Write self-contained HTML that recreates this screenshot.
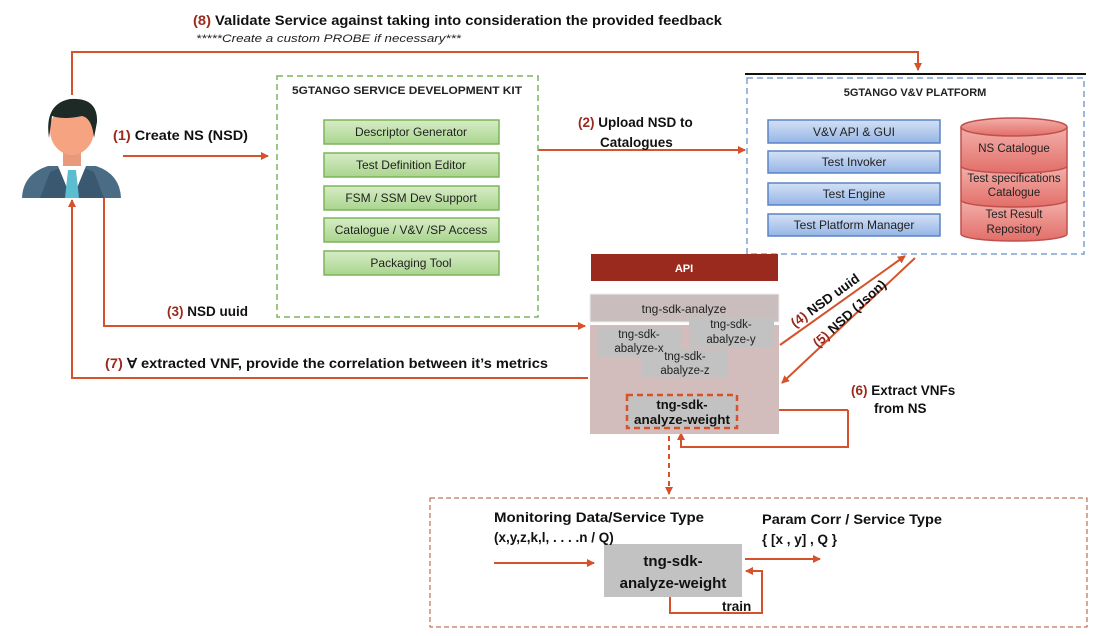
<!DOCTYPE html>
<html><head><meta charset="utf-8"><style>
html,body{margin:0;padding:0;background:#fff}
svg{display:block;font-family:"Liberation Sans",sans-serif}
</style></head><body>
<svg width="1095" height="636" viewBox="0 0 1095 636" xmlns="http://www.w3.org/2000/svg">
<defs>
<marker id="a" markerWidth="8" markerHeight="8" refX="7" refY="4" orient="auto" markerUnits="userSpaceOnUse"><path d="M0,0 L8,4 L0,8 z" fill="#d5522a"/></marker>
<linearGradient id="g" x1="0" y1="0" x2="0" y2="1"><stop offset="0" stop-color="#d7ecc6"/><stop offset="1" stop-color="#a9d58e"/></linearGradient>
<linearGradient id="b" x1="0" y1="0" x2="0" y2="1"><stop offset="0" stop-color="#d4e1f5"/><stop offset="1" stop-color="#95b5e6"/></linearGradient>
<linearGradient id="r" x1="0" y1="0" x2="0" y2="1"><stop offset="0" stop-color="#f3b0ab"/><stop offset="1" stop-color="#e26e68"/></linearGradient>
</defs>
<g fill="none" stroke="#d5522a" stroke-width="2">
<polyline points="72,95 72,52 918,52 918,70" marker-end="url(#a)"/>
<line x1="123" y1="156" x2="268" y2="156" marker-end="url(#a)"/>
<line x1="538" y1="150" x2="745" y2="150" marker-end="url(#a)"/>
<polyline points="104,197 104,326 585,326" marker-end="url(#a)"/>
<polyline points="588,378 72,378 72,200" marker-end="url(#a)"/>
<line x1="780" y1="345" x2="905" y2="256" marker-end="url(#a)"/>
<line x1="915" y1="258" x2="782" y2="383" marker-end="url(#a)"/>
<polyline points="848,410 848,447 681,447 681,433" marker-end="url(#a)"/>
<line x1="848" y1="410" x2="740" y2="410" marker-end="url(#a)"/>
<line x1="669" y1="436" x2="669" y2="494" stroke-dasharray="5,4" marker-end="url(#a)"/>
<line x1="494" y1="563" x2="594" y2="563" marker-end="url(#a)"/>
<line x1="745" y1="559" x2="820" y2="559" marker-end="url(#a)"/>
<polyline points="670,597 670,613 762,613 762,571 746,571" marker-end="url(#a)"/>
</g>
<rect x="430" y="498" width="657" height="129" fill="none" stroke="#b5532e" stroke-width="1" stroke-dasharray="5,3"/>
<!-- person -->
<g>
<path d="M22,198 Q23,174 48,166 L96,166 Q120,174 121,198 z" fill="#4a6d85"/>
<path d="M40,198 L50,172 L60,168 L70,198 z M104,198 L94,172 L84,168 L74,198 z" fill="#3a5870"/>
<path d="M58,166 L72,200 L86,166 z" fill="#fff"/>
<path d="M68,170 L76,170 L79,198 L65,198 z" fill="#5bbdd0"/>
<rect x="63" y="148" width="18" height="18" fill="#e79a7c"/>
<ellipse cx="72" cy="130" rx="22" ry="25" fill="#f6a381"/>
<path d="M49,138 Q44,104 70,99 Q98,97 97,122 L94,138 Q92,118 82,116 Q64,120 52,116 z" fill="#1e2a26"/>
</g>
<!-- SDK -->
<rect x="277" y="76" width="261" height="241" fill="#fff" stroke="#7cb55a" stroke-width="1.5" stroke-dasharray="6,4"/>
<text x="407" y="94" text-anchor="middle" font-size="11" font-weight="bold" fill="#222" textLength="230" lengthAdjust="spacingAndGlyphs">5GTANGO SERVICE DEVELOPMENT KIT</text>
<g stroke="#7cb55a" stroke-width="1.5" fill="url(#g)">
<rect x="324" y="120" width="175" height="24"/><rect x="324" y="153" width="175" height="24"/><rect x="324" y="186" width="175" height="24"/><rect x="324" y="218" width="175" height="24"/><rect x="324" y="251" width="175" height="24"/>
</g>
<g font-size="12" fill="#222" text-anchor="middle">
<text x="411" y="136">Descriptor Generator</text><text x="411" y="169">Test Definition Editor</text><text x="411" y="202">FSM / SSM Dev Support</text><text x="411" y="234">Catalogue / V&amp;V /SP Access</text><text x="411" y="267">Packaging Tool</text>
</g>
<!-- V&V -->
<line x1="745" y1="74" x2="1086" y2="74" stroke="#111" stroke-width="2"/>
<rect x="747" y="78" width="337" height="176" fill="#fff" stroke="#7f9fd0" stroke-width="1.5" stroke-dasharray="6,4"/>
<text x="915" y="96" text-anchor="middle" font-size="11" font-weight="bold" fill="#222">5GTANGO V&amp;V PLATFORM</text>
<g stroke="#5b84c4" stroke-width="1.5" fill="url(#b)">
<rect x="768" y="120" width="172" height="23"/><rect x="768" y="151" width="172" height="22"/><rect x="768" y="183" width="172" height="22"/><rect x="768" y="214" width="172" height="22"/>
</g>
<g font-size="12" fill="#222" text-anchor="middle">
<text x="854" y="136">V&amp;V API &amp; GUI</text><text x="854" y="166">Test Invoker</text><text x="854" y="198">Test Engine</text><text x="854" y="229">Test Platform Manager</text>
</g>
<g stroke="#c0504d" stroke-width="1.5" fill="url(#r)">
<path d="M961,200 L961,234 A53,7 0 0 0 1067,234 L1067,200"/>
<path d="M961,166 L961,200 A53,7 0 0 0 1067,200 L1067,166"/>
<path d="M961,127 L961,166 A53,7 0 0 0 1067,166 L1067,127"/>
<ellipse cx="1014" cy="127" rx="53" ry="9"/>
</g>
<g font-size="11.5" fill="#222" text-anchor="middle">
<text x="1014" y="152">NS Catalogue</text><text x="1014" y="182">Test specifications</text><text x="1014" y="196">Catalogue</text><text x="1014" y="218">Test Result</text><text x="1014" y="233">Repository</text>
</g>
<!-- analyze -->
<rect x="591" y="254" width="187" height="27" fill="#9b2a1e"/>
<text x="684" y="272" text-anchor="middle" font-size="11" font-weight="bold" fill="#fff">API</text>
<rect x="590" y="294" width="189" height="28" fill="#c9bdbd" stroke="#eee"/>
<text x="684" y="313" text-anchor="middle" font-size="12" fill="#222">tng-sdk-analyze</text>
<rect x="590" y="325" width="189" height="109" fill="#d2bcbc"/>
<rect x="597" y="327" width="85" height="30" fill="#c2c2c2"/>
<rect x="689" y="317" width="85" height="30" fill="#c2c2c2"/>
<rect x="642" y="349" width="85" height="28" fill="#c2c2c2"/>
<g font-size="11.5" fill="#222" text-anchor="middle">
<text x="639" y="338">tng-sdk-</text><text x="639" y="352">abalyze-x</text>
<text x="731" y="328">tng-sdk-</text><text x="731" y="343">abalyze-y</text>
<text x="685" y="360">tng-sdk-</text><text x="685" y="374">abalyze-z</text>
</g>
<rect x="627" y="395" width="110" height="33" fill="#c2c2c2" stroke="#d5522a" stroke-width="2.5" stroke-dasharray="6,4"/>
<g font-size="13" font-weight="bold" fill="#111" text-anchor="middle"><text x="682" y="409">tng-sdk-</text><text x="682" y="424" textLength="96" lengthAdjust="spacingAndGlyphs">analyze-weight</text></g>
<rect x="604" y="544" width="138" height="53" fill="#c2c2c2"/>
<g font-size="15" font-weight="bold" fill="#111" text-anchor="middle"><text x="673" y="566">tng-sdk-</text><text x="673" y="588">analyze-weight</text></g>
<g font-size="13.5" font-weight="bold" fill="#111">
<text x="193" y="25" textLength="529" lengthAdjust="spacingAndGlyphs"><tspan fill="#9b2a1e">(8)</tspan> Validate Service against taking into consideration the provided feedback</text>
<text x="113" y="140" textLength="135" lengthAdjust="spacingAndGlyphs"><tspan fill="#9b2a1e">(1)</tspan> Create NS (NSD)</text>
<text x="578" y="127"><tspan fill="#9b2a1e">(2)</tspan> Upload NSD to</text>
<text x="600" y="147">Catalogues</text>
<text x="167" y="316"><tspan fill="#9b2a1e">(3)</tspan> NSD uuid</text>
<text x="105" y="368" textLength="443" lengthAdjust="spacingAndGlyphs"><tspan fill="#9b2a1e">(7)</tspan> ∀ extracted VNF, provide the correlation between it’s metrics</text>
<text x="851" y="395"><tspan fill="#9b2a1e">(6)</tspan> Extract VNFs</text>
<text x="874" y="413">from NS</text>
<text transform="translate(795,328) rotate(-36)"><tspan fill="#9b2a1e">(4)</tspan> NSD uuid</text>
<text transform="translate(818,348) rotate(-42)"><tspan fill="#9b2a1e">(5)</tspan> NSD (Json)</text>
<text x="494" y="522" textLength="210" lengthAdjust="spacingAndGlyphs">Monitoring Data/Service Type</text>
<text x="494" y="542">(x,y,z,k,l, . . . .n / Q)</text>
<text x="762" y="524" textLength="180" lengthAdjust="spacingAndGlyphs">Param Corr / Service Type</text>
<text x="762" y="544">{ [x , y] , Q }</text>
<text x="722" y="611">train</text>
</g>
<text x="196" y="42" font-size="11" font-style="italic" fill="#222" textLength="265" lengthAdjust="spacingAndGlyphs">*****Create a custom PROBE if necessary***</text>
</svg>
</body></html>
